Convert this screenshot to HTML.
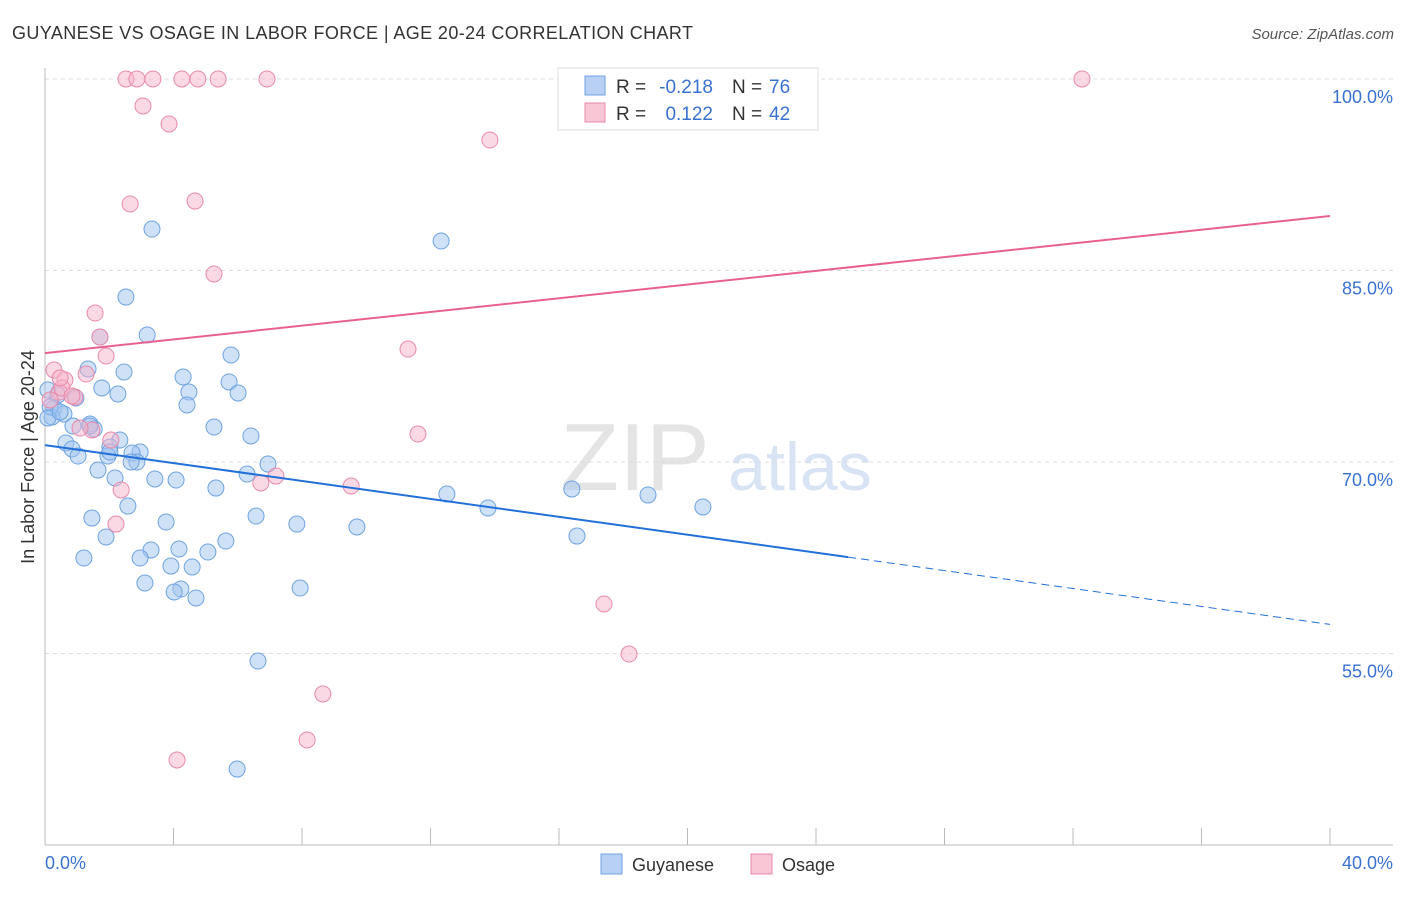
<!DOCTYPE html>
<html><head><meta charset="utf-8"><style>
body{margin:0;background:#fff;font-family:"Liberation Sans",sans-serif}
svg text{font-family:"Liberation Sans",sans-serif}
</style></head><body>
<svg id="c" width="1406" height="892">
<text x="12" y="39" font-size="18" fill="#333" textLength="681">GUYANESE VS OSAGE IN LABOR FORCE | AGE 20-24 CORRELATION CHART</text>
<text x="1394" y="39" font-size="15" fill="#555" font-style="italic" text-anchor="end">Source: ZipAtlas.com</text>
<text x="635" y="490" font-size="96" fill="#e4e4e4" font-family="Liberation Serif" text-anchor="middle">ZIP</text>
<text x="800" y="490" font-size="68" fill="#d8e4f4" text-anchor="middle">atlas</text>
<g id="grid"></g><g id="axes"></g><g id="pts"></g><g id="lines"></g>
<text transform="translate(34,457) rotate(-90)" font-size="18" fill="#333" text-anchor="middle">In Labor Force | Age 20-24</text>
<text x="45" y="869" font-size="18" fill="#3a72d0">0.0%</text>
<text x="1393" y="869" font-size="18" fill="#3a72d0" text-anchor="end">40.0%</text>
<g>
<rect x="558" y="68" width="260" height="62" fill="#fff" stroke="#ddd"/>
<rect x="585" y="76" width="20" height="19" fill="#b7d0f4" stroke="#6fa3e0"/>
<rect x="585" y="103" width="20" height="19" fill="#f9c6d6" stroke="#e88aab"/>
<text x="616" y="93" font-size="19" fill="#333">R =</text>
<text x="713" y="93" font-size="19" fill="#3a72d0" text-anchor="end">-0.218</text>
<text x="732" y="93" font-size="19" fill="#333">N =</text>
<text x="769" y="93" font-size="19" fill="#3a72d0">76</text>
<text x="616" y="120" font-size="19" fill="#333">R =</text>
<text x="713" y="120" font-size="19" fill="#3a72d0" text-anchor="end">0.122</text>
<text x="732" y="120" font-size="19" fill="#333">N =</text>
<text x="769" y="120" font-size="19" fill="#3a72d0">42</text>
</g>
<g>
<rect x="601" y="854" width="21" height="20" fill="#b7d0f4" stroke="#6fa3e0"/>
<text x="632" y="871" font-size="18" fill="#333">Guyanese</text>
<rect x="751" y="854" width="21" height="20" fill="#f9c6d6" stroke="#e88aab"/>
<text x="782" y="871" font-size="18" fill="#333">Osage</text>
</g>
</svg>
<script>
const yTicks=[55,70,85,100];
const xTickVals=[0,4,8,12,16,20,24,28,32,36,40];
const bluePx=[[152,229],[441,241],[126,297],[147,335],[100,337],[231,355],[88,369],[124,372],[183,377],[229,382],[102,388],[48,390],[118,394],[189,392],[238,393],[58,395],[76,398],[187,405],[54,408],[64,414],[52,417],[90,424],[73,426],[94,429],[214,427],[251,436],[120,440],[66,443],[72,449],[110,447],[140,452],[132,453],[78,456],[108,456],[137,462],[131,462],[268,464],[98,470],[247,474],[115,478],[155,479],[176,480],[216,488],[447,494],[572,489],[648,495],[128,506],[488,508],[703,507],[92,518],[256,516],[166,522],[297,524],[357,527],[106,537],[226,541],[577,536],[151,550],[179,549],[208,552],[84,558],[140,558],[171,566],[192,567],[145,583],[181,589],[174,592],[196,598],[300,588],[258,661],[237,769],[50,407],[48,418],[60,412],[90,426],[110,452]];
const pinkPx=[[126,79],[137,79],[153,79],[182,79],[198,79],[218,79],[267,79],[793,79],[1082,79],[143,106],[169,124],[490,140],[130,204],[195,201],[214,274],[95,313],[100,337],[106,356],[408,349],[54,370],[65,380],[86,374],[59,392],[75,397],[418,434],[92,430],[111,440],[276,476],[261,483],[351,486],[121,490],[116,524],[604,604],[629,654],[323,694],[307,740],[177,760],[50,400],[62,388],[72,396],[80,428],[60,378]];
const blueX=bluePx.map(p=>+((p[0]-45)/1285*40).toFixed(2));
const blueY=bluePx.map(p=>+(100-(p[1]-79)/12.767).toFixed(2));
const pinkX=pinkPx.map(p=>+((p[0]-45)/1285*40).toFixed(2));
const pinkY=pinkPx.map(p=>+(100-(p[1]-79)/12.767).toFixed(2));
const blueTrend=[71.32,62.55,57.28];
const pinkTrend=[78.53,89.27];
const X=v=>45+v/40*1285, Y=v=>79+(100-v)*12.767;
const NS="http://www.w3.org/2000/svg";
function mk(t,a,parent){const e=document.createElementNS(NS,t);for(const k in a)e.setAttribute(k,a[k]);document.getElementById(parent).appendChild(e);return e;}
yTicks.forEach(v=>{
 const l=mk('line',{x1:45,x2:1393,y1:Y(v),y2:Y(v),stroke:'#ddd','stroke-dasharray':'4,4'},'grid');
 
 
 const t=mk('text',{x:1393,y:Y(v)+24,'font-size':18,fill:'#3a72d0','text-anchor':'end'},'grid');
 t.textContent=v.toFixed(1)+'%';
 
 
});
mk('line',{x1:45,x2:45,y1:68,y2:845,stroke:'#bbb'},'axes');
mk('line',{x1:45,x2:1393,y1:845,y2:845,stroke:'#bbb'},'axes');
xTickVals.forEach(v=>{const l=mk('line',{x1:X(v),x2:X(v),y1:828,y2:845,stroke:'#bbb'},'axes');
 
 });
blueX.forEach((x,i)=>{const c=mk('circle',{cx:X(x),cy:Y(blueY[i]),r:8,fill:'rgba(160,195,240,0.5)',stroke:'#6fa3e0','stroke-width':1},'pts');
 
 });
pinkX.forEach((x,i)=>{const c=mk('circle',{cx:X(x),cy:Y(pinkY[i]),r:8,fill:'rgba(246,180,202,0.5)',stroke:'#e88aab','stroke-width':1},'pts');
 
 });
let l=mk('line',{x1:X(0),y1:Y(blueTrend[0]),x2:X(25),y2:Y(blueTrend[1]),stroke:'#2270d8','stroke-width':2},'lines');


l=mk('line',{x1:X(25),y1:Y(blueTrend[1]),x2:X(40),y2:Y(blueTrend[2]),stroke:'#2270d8','stroke-width':1,'stroke-dasharray':'8,5'},'lines');


l=mk('line',{x1:X(0),y1:Y(pinkTrend[0]),x2:X(40),y2:Y(pinkTrend[1]),stroke:'#e8608f','stroke-width':2},'lines');


</script>
</body></html>
